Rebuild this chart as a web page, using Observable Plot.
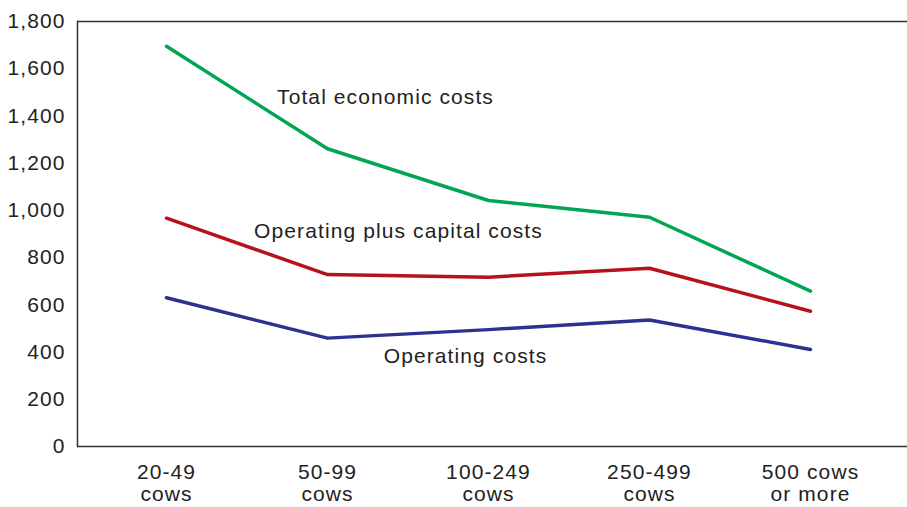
<!DOCTYPE html>
<html>
<head>
<meta charset="utf-8">
<script src="https://cdn.jsdelivr.net/npm/d3@7"></script>
<script src="https://cdn.jsdelivr.net/npm/@observablehq/plot@0.6"></script>
<style>
  html, body { margin: 0; padding: 0; background: #fff; }
  svg { display: block; }
  svg text { letter-spacing: 1.1px; }
</style>
</head>
<body>
<div id="chart"></div>
<script>
const categories = ["20-49\ncows", "50-99\ncows", "100-249\ncows", "250-499\ncows", "500 cows\nor more"];
const totalEconomic = [1695, 1261, 1042, 971, 658];
const operatingPlusCapital = [967, 728, 717, 755, 573];
const operating = [630, 459, 495, 536, 411];
const yTicks = [0, 200, 400, 600, 800, 1000, 1200, 1400, 1600, 1800];

const seriesNames = ["Total economic costs", "Operating plus capital costs", "Operating costs"];
const seriesValues = [totalEconomic, operatingPlusCapital, operating];
const seriesColors = ["#00a651", "#b5121b", "#2e3192"];

const rows = seriesNames.flatMap((s, i) =>
  categories.map((c, j) => ({series: s, category: c, value: seriesValues[i][j]}))
);

// annotation labels: category anchor + value
const labelCats = ["50-99\ncows", "100-249\ncows", "100-249\ncows"];
const labelVals = [1478, 910, 381];
const labels = seriesNames.map((s, i) => ({text: s, category: labelCats[i], value: labelVals[i]}));

const chart = Plot.plot({
  width: 907,
  height: 507,
  marginLeft: 77,
  marginRight: 0,
  marginTop: 21,
  marginBottom: 61,
  style: {fontFamily: "'Liberation Sans', Arial, Helvetica, sans-serif", color: "#222", background: "#fff"},
  x: {type: "point", domain: categories, padding: 0.566, align: 0.481, label: null},
  y: {domain: [0, 1800], ticks: yTicks, label: null},
  color: {domain: seriesNames, range: seriesColors},
  marks: [
    Plot.frame({anchor: "left", stroke: "#333", strokeWidth: 1.5}),
    Plot.ruleY([0, 1800], {stroke: "#333", strokeWidth: 1.5}),
    Plot.axisY({ticks: yTicks, tickSize: 0, tickPadding: 12, fontSize: 21, tickFormat: d3.format(","), label: null}),
    Plot.axisX({tickSize: 0, tickPadding: 17, fontSize: 21, lineHeight: 1.05, label: null}),
    Plot.line(rows, {x: "category", y: "value", z: "series", stroke: "series", strokeWidth: 3.5}),
    Plot.text(labels.slice(0, 1), {x: "category", y: "value", text: "text", dx: 58, fontSize: 21, fill: "#222"}),
    Plot.text(labels.slice(1, 2), {x: "category", y: "value", text: "text", dx: -90, fontSize: 21, fill: "#222"}),
    Plot.text(labels.slice(2, 3), {x: "category", y: "value", text: "text", dx: -23, fontSize: 21, fill: "#222"})
  ]
});

document.getElementById("chart").appendChild(chart);
</script>
</body>
</html>
